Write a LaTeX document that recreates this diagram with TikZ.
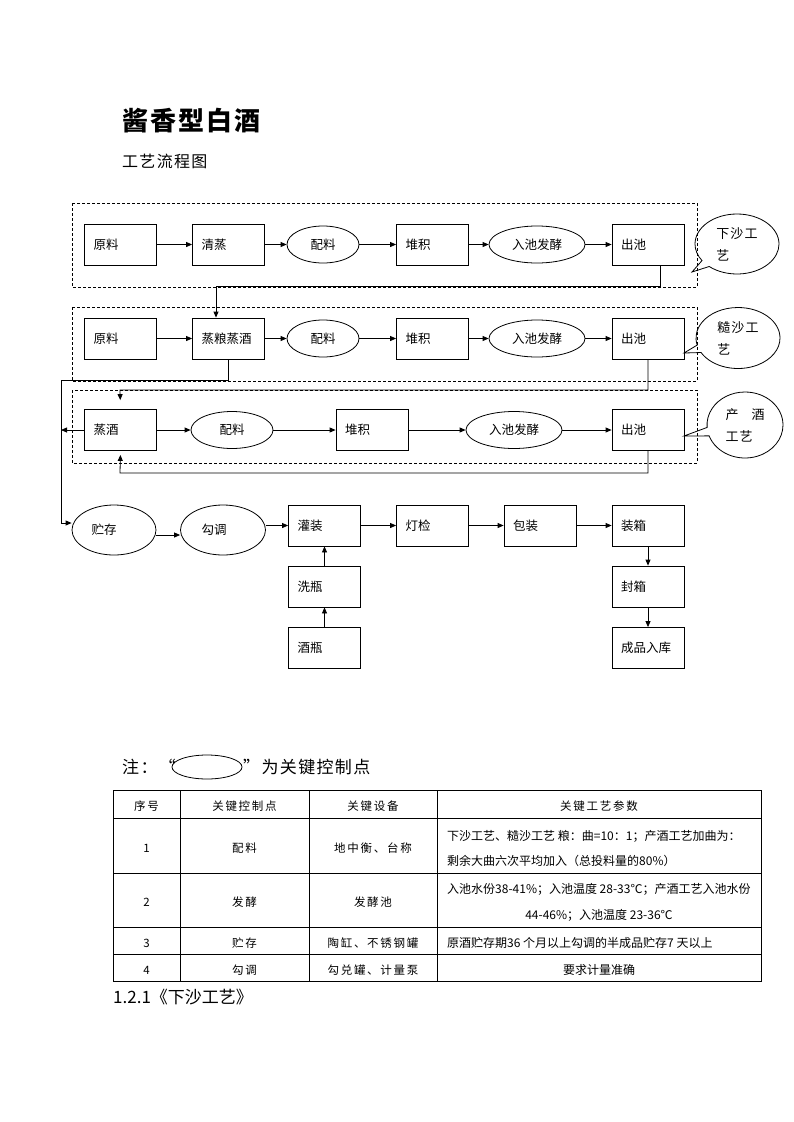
\documentclass[tikz,border=0pt]{standalone}
\usepackage{fontspec}
\usetikzlibrary{shapes.geometric,shapes.callouts,arrows.meta}
\newfontfamily\cjk{Noto Sans CJK SC}
\newfontfamily\cjksp[LetterSpace=8]{Noto Sans CJK SC}
\newfontfamily\cjktab[LetterSpace=15]{Noto Sans CJK SC}
\tikzset{
	stepbox/.style={draw, line width=.8pt, minimum width=72pt, minimum height=41pt, text width=54pt, inner xsep=9pt, inner ysep=0pt, align=left, font=\cjk\fontsize{12.5}{14}\selectfont},
	ctlpt/.style={draw, ellipse, line width=.8pt, minimum height=37pt, inner sep=0pt, font=\cjk\fontsize{12.5}{14}\selectfont},
	grp/.style={draw, dash pattern=on 3pt off 2pt, line width=.6pt},
	conn/.style={line width=.8pt, -{Triangle[length=6pt,width=5pt]}},
	bubble/.style={draw, ellipse callout, line width=.8pt, inner sep=0pt, align=left, font=\cjksp\fontsize{13}{22}\selectfont},
	tabtxt/.style={font=\cjktab\fontsize{11.5}{13}\selectfont, inner sep=0pt},
	partxt/.style={font=\cjk\fontsize{12}{14}\selectfont, inner sep=0pt}
}
\begin{document}
\begin{tikzpicture}[x=1pt, y=-1pt]
	\useasboundingbox (0,0) rectangle (793,1122);
	\node[anchor=west, inner sep=0pt, font=\cjksp\bfseries\fontsize{26}{30}\selectfont] (title) at (122,121) {酱香型白酒};
	\node[anchor=west, inner sep=0pt, font=\cjksp\fontsize{16}{18}\selectfont] (subtitle) at (122,161) {工艺流程图};

	\draw[grp] (72,203) rectangle (697,287);
	\draw[grp] (72,307) rectangle (697,381);
	\draw[grp] (72,390) rectangle (697,463);

	\node[stepbox] (xsyl) at (120.5,244.5) {原料};
	\node[stepbox] (xsqz) at (228.5,244.5) {清蒸};
	\node[ctlpt, minimum width=72pt] (xspl) at (323,244.5) {配料};
	\node[stepbox] (xsdj) at (432.5,244.5) {堆积};
	\node[ctlpt, minimum width=96pt] (xsfj) at (537,244.5) {入池发酵};
	\node[stepbox] (xscc) at (648,244.5) {出池};
	\draw[conn] (xsyl) -- (xsqz);
	\draw[conn] (xsqz) -- (xspl);
	\draw[conn] (xspl) -- (xsdj);
	\draw[conn] (xsdj) -- (xsfj);
	\draw[conn] (xsfj) -- (xscc);

	\node[stepbox] (csyl) at (120.5,338.5) {原料};
	\node[stepbox] (csgz) at (228.5,338.5) {蒸粮蒸酒};
	\node[ctlpt, minimum width=72pt] (cspl) at (323,338.5) {配料};
	\node[stepbox] (csdj) at (432.5,338.5) {堆积};
	\node[ctlpt, minimum width=96pt] (csfj) at (537,338.5) {入池发酵};
	\node[stepbox] (cscc) at (648,338.5) {出池};
	\draw[conn] (csyl) -- (csgz);
	\draw[conn] (csgz) -- (cspl);
	\draw[conn] (cspl) -- (csdj);
	\draw[conn] (csdj) -- (csfj);
	\draw[conn] (csfj) -- (cscc);

	\node[stepbox] (cjzj) at (120.5,430) {蒸酒};
	\node[ctlpt, minimum width=82pt] (cjpl) at (232,430) {配料};
	\node[stepbox] (cjdj) at (372,430) {堆积};
	\node[ctlpt, minimum width=96pt] (cjfj) at (514,430) {入池发酵};
	\node[stepbox] (cjcc) at (648,430) {出池};
	\draw[conn] (cjzj) -- (cjpl);
	\draw[conn] (cjpl) -- (cjdj);
	\draw[conn] (cjdj) -- (cjfj);
	\draw[conn] (cjfj) -- (cjcc);

	\node[ctlpt, minimum width=84pt, minimum height=50pt] (cz) at (114,530) {\hspace*{-20pt}贮存};
	\node[ctlpt, minimum width=85pt, minimum height=50pt] (gt) at (223,530) {\hspace*{-18pt}勾调};
	\node[stepbox] (gz) at (324.5,525.5) {灌装};
	\node[stepbox] (dj) at (432.5,525.5) {灯检};
	\node[stepbox] (bz) at (540,525.5) {包装};
	\node[stepbox] (zx) at (648,525.5) {装箱};
	\node[stepbox] (xp) at (324.5,586.5) {洗瓶};
	\node[stepbox] (jp) at (324.5,648) {酒瓶};
	\node[stepbox] (fx) at (648,586.5) {封箱};
	\node[stepbox] (cp) at (648,648) {成品入库};
	\draw[conn] ([yshift=-5pt]cz.east) -- ([yshift=-5pt]gt.west);
	\draw[conn] (gt.east |- gz) -- (gz);
	\draw[conn] (gz) -- (dj);
	\draw[conn] (dj) -- (bz);
	\draw[conn] (bz) -- (zx);
	\draw[conn] (jp) -- (xp);
	\draw[conn] (xp) -- (gz);
	\draw[conn] (zx) -- (fx);
	\draw[conn] (fx) -- (cp);

	\coordinate (k1) at (216,286);
	\coordinate (k2) at (61,380);
	\coordinate (k3) at (120,390);
	\coordinate (k4) at (120,473);
	\coordinate (k5) at (61,430);
	\draw[conn] ([xshift=12pt]xscc.south) |- (k1) -- ([xshift=-12.5pt]csgz.north);
	\draw[conn] (csgz.south) |- (k2) |- ([yshift=7pt]cz.west);
	\draw[conn, shorten >=9pt] (cscc.south) |- (k3) -- (cjzj.north);
	\draw[conn, shorten >=4pt] (cjcc.south) |- (k4) -- (cjzj.south);
	\draw[conn] (cjzj.west) -- (k5);

	\coordinate (tipA) at (692,272);
	\coordinate (tipB) at (684,353);
	\coordinate (tipC) at (684,436);
	\node[bubble, minimum width=84pt, minimum height=60pt, callout absolute pointer=(tipA)] (xsnote) at (737,244) {下沙工\\艺};
	\node[bubble, minimum width=84pt, minimum height=61pt, callout absolute pointer=(tipB)] (csnote) at (738,338) {糙沙工\\艺};
	\node[bubble, minimum width=76pt, minimum height=66pt, callout absolute pointer=(tipC)] (cjnote) at (745,425) {产\hspace{1em}酒\\工艺};

	\node[anchor=west, inner sep=0pt, font=\cjksp\fontsize{17}{20}\selectfont] (note1) at (122,767) {注：“};
	\node[draw, ellipse, line width=.8pt, minimum width=70pt, minimum height=24pt, inner sep=0pt] (notekey) at (207,767) {};
	\node[anchor=west, inner sep=0pt, font=\cjksp\fontsize{17}{20}\selectfont] (note2) at (243,767) {”为关键控制点};

	\draw[line width=.8pt] (113,790) rectangle (761,981);
	\foreach \y in {818,873,927,954} \draw[line width=.8pt] (113,\y) -- (761,\y);
	\foreach \x in {180,309,437} \draw[line width=.8pt] (\x,790) -- (\x,981);

	\node[tabtxt] (h1) at (146.5,806) {序号};
	\node[tabtxt] (h2) at (244.5,806) {关键控制点};
	\node[tabtxt] (h3) at (373,806) {关键设备};
	\node[tabtxt] (h4) at (599,806) {关键工艺参数};
	\node[tabtxt] (a1) at (146.5,848) {1};
	\node[tabtxt] (a2) at (244.5,848) {配料};
	\node[tabtxt] (a3) at (373,848) {地中衡、台称};
	\node[partxt, anchor=west] (a4) at (447,836) {下沙工艺、糙沙工艺 粮：曲=10：1；产酒工艺加曲为：};
	\node[partxt, anchor=west] (a5) at (447,861) {剩余大曲六次平均加入（总投料量的80\%）};
	\node[tabtxt] (b1) at (146.5,902) {2};
	\node[tabtxt] (b2) at (244.5,902) {发酵};
	\node[tabtxt] (b3) at (373,902) {发酵池};
	\node[partxt, anchor=west] (b4) at (447,889) {入池水份38-41\%；入池温度 28-33℃；产酒工艺入池水份};
	\node[partxt] (b5) at (599,915) {44-46\%；入池温度 23-36℃};
	\node[tabtxt] (c1) at (146.5,943) {3};
	\node[tabtxt] (c2) at (244.5,943) {贮存};
	\node[tabtxt] (c3) at (373,943) {陶缸、不锈钢罐};
	\node[partxt, anchor=west] (c4) at (447,943) {原酒贮存期36 个月以上勾调的半成品贮存7 天以上};
	\node[tabtxt] (d1) at (146.5,970) {4};
	\node[tabtxt] (d2) at (244.5,970) {勾调};
	\node[tabtxt] (d3) at (373,970) {勾兑罐、计量泵};
	\node[partxt] (d4) at (599,970) {要求计量准确};

	\node[anchor=west, inner sep=0pt, font=\cjk\fontsize{17}{20}\selectfont] (sec) at (113,997) {1.2.1《下沙工艺》};
\end{tikzpicture}
\end{document}
